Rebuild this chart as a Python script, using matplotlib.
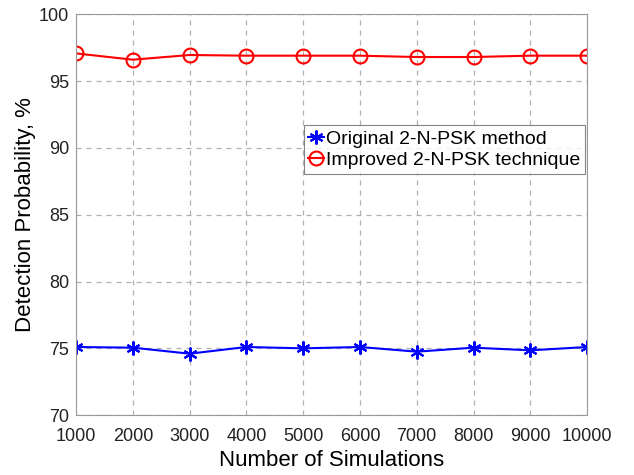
import matplotlib
matplotlib.use("Agg")
import matplotlib.pyplot as plt

plt.rcParams['font.family'] = ['Liberation Sans', 'DejaVu Sans']

simulations = [1000, 2000, 3000, 4000, 5000, 6000, 7000, 8000, 9000, 10000]
original = [75.1, 75.05, 74.6, 75.1, 75.0, 75.1, 74.75, 75.05, 74.85, 75.1]
improved = [97.07, 96.6, 96.95, 96.9, 96.9, 96.9, 96.8, 96.8, 96.9, 96.9]

fig = plt.figure(figsize=(6.34, 4.75), dpi=100)
ax = fig.add_axes([0.12, 0.126, 0.806, 0.844])

# matlab style asterisk
ax.plot(simulations, original, color='blue', marker=(6, 2, 0), markersize=10,
        markeredgewidth=1.5, linewidth=1.5, label='Original 2-N-PSK method')
ax.plot(simulations, improved, color='red', marker='o', markersize=10,
        markerfacecolor='none', markeredgewidth=1.5, linewidth=1.5,
        label='Improved 2-N-PSK technique')

ax.set_xlim(1000, 10000)
ax.set_ylim(70, 100)
ax.set_xticks(simulations)
ax.set_yticks(range(70, 101, 5))
ax.grid(True, linestyle=(0, (4, 4)), color='#b0b0b0', linewidth=0.9)
for s in ax.spines.values():
    s.set_color('#999999')
ax.tick_params(labelsize=13, length=0, colors='#222222')
ax.tick_params(axis='x', pad=9)
ax.tick_params(axis='y', pad=5)
ax.set_xlabel('Number of Simulations', fontsize=16, labelpad=4)
ax.set_ylabel('Detection Probability, %', fontsize=16, labelpad=2)

leg = ax.legend(loc='upper right', bbox_to_anchor=(0.996, 0.723), fontsize=14,
                frameon=True, fancybox=False, edgecolor='#666666',
                handlelength=0.8, handletextpad=0.1, borderpad=0.25,
                labelspacing=0.2, borderaxespad=0)
leg.get_frame().set_linewidth(0.8)

fig.savefig('out.png', dpi=100)
